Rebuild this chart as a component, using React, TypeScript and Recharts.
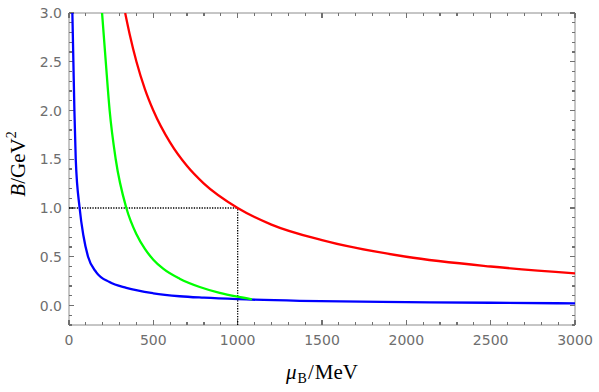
import React from 'react';
import { LineChart, Line, XAxis, YAxis, ReferenceLine, ReferenceArea } from 'recharts';

// ---- data ----
const blueMu = [20, 26, 32, 40, 63, 85, 113, 162, 240, 340, 500, 656, 800, 1000, 1370, 2000, 2500, 3000];
const blueB = [3.0, 2.5, 2.0, 1.5, 1.0, 0.72, 0.5, 0.34, 0.24, 0.18, 0.125, 0.095, 0.08, 0.065, 0.048, 0.035, 0.028, 0.022];

const greenMu = [196, 218, 241, 277, 340, 400, 450, 500, 560, 656, 775, 893, 1000, 1085];
const greenB = [3.0, 2.5, 2.0, 1.5, 1.0, 0.73, 0.58, 0.47, 0.375, 0.275, 0.19, 0.13, 0.09, 0.063];

const redMu = [333, 360, 400, 450, 500, 600, 700, 800, 1000, 1200, 1500, 2000, 2500, 3000];
const redB = [3.0, 2.78, 2.5, 2.22, 2.0, 1.67, 1.43, 1.25, 1.0, 0.83, 0.67, 0.5, 0.4, 0.33];

const hSegment = [{ x: 0, y: 1.0 }, { x: 1000, y: 1.0 }];
const vSegment = [{ x: 1000, y: -0.2 }, { x: 1000, y: 1.0 }];

const xDomain = [0, 3000];
const yDomain = [-0.2, 3.0];
const xMajorTicks = [0, 500, 1000, 1500, 2000, 2500, 3000];
const yMajorTicks = [0.0, 0.5, 1.0, 1.5, 2.0, 2.5, 3.0];
const xAllTicks = Array.from({ length: 31 }, (_, i) => i * 100);
const yAllTicks = Array.from({ length: 33 }, (_, i) => Math.round((-0.2 + i * 0.1) * 10) / 10);

const toRows = (mu: number[], b: number[]) => mu.map((m, i) => ({ mu: m, B: b[i] }));
const blueData = toRows(blueMu, blueB);
const greenData = toRows(greenMu, greenB);
const redData = toRows(redMu, redB);

// ---- layout / style ----
const CHART_W = 599;
const CHART_H = 392;
const MARGIN = { top: 13, right: 24, bottom: 0, left: 0 };
const Y_AXIS_W = 69;
const X_AXIS_H = 67;
const PLOT_W = CHART_W - MARGIN.right - Y_AXIS_W;
const PLOT_H = CHART_H - MARGIN.top - X_AXIS_H;
const muPerPx = (xDomain[1] - xDomain[0]) / PLOT_W;
const bPerPx = (yDomain[1] - yDomain[0]) / PLOT_H;

const AXIS = '#8c8c8c';
const TICKC = '#707070';
const TXT = '#6e6e6e';
const TICK_FONT = 'DejaVu Sans';
const TICK_SIZE = 14;
const MY = 7;
const MX = 10;
const MAJ = 5;
const MIN = 3;

const isMajorX = (v: number) => xMajorTicks.includes(v);
const isMajorY = (v: number) => yMajorTicks.some((t) => Math.abs(t - v) < 1e-6);

// inward tick marks on all four sides, positioned through the chart scales
const xTickSegs = xAllTicks.flatMap((v) => {
  const len = (isMajorX(v) ? MAJ : MIN) * bPerPx;
  return [
    [{ x: v, y: yDomain[0] }, { x: v, y: yDomain[0] + len }],
    [{ x: v, y: yDomain[1] }, { x: v, y: yDomain[1] - len }],
  ];
});
const yTickSegs = yAllTicks.flatMap((v) => {
  const len = (isMajorY(v) ? MAJ : MIN) * muPerPx;
  return [
    [{ x: xDomain[0], y: v }, { x: xDomain[0] + len, y: v }],
    [{ x: xDomain[1], y: v }, { x: xDomain[1] - len, y: v }],
  ];
});

function LeftTick(props: any) {
  const x = Number(props.x);
  const y = Number(props.y);
  const v = Number(props.payload.value);
  if (!isMajorY(v)) return <g />;
  return (
    <text x={x} y={y} dy="0.36em" textAnchor="end" fill={TXT} fontSize={TICK_SIZE} fontFamily={TICK_FONT}>
      {v.toFixed(1)}
    </text>
  );
}

function BottomTick(props: any) {
  const x = Number(props.x);
  const y = Number(props.y);
  const v = Number(props.payload.value);
  if (!isMajorX(v)) return <g />;
  return (
    <text x={x} y={y} dy="0.72em" textAnchor="middle" fill={TXT} fontSize={TICK_SIZE} fontFamily={TICK_FONT}>
      {String(v)}
    </text>
  );
}

function XTitle(props: any) {
  const vb = props.viewBox || { x: Y_AXIS_W, width: PLOT_W, y: MARGIN.top + PLOT_H };
  const cx = vb.x + vb.width / 2;
  return (
    <text x={cx} y={vb.y + 54} textAnchor="middle" fontFamily="Liberation Serif" fontSize={21} fill="#000">
      <tspan fontStyle="italic">μ</tspan>
      <tspan fontSize={14} dy={4} dx={1}>B</tspan>
      <tspan dy={-4} dx={1}>/</tspan>
      <tspan dx={1}>MeV</tspan>
    </text>
  );
}

function YTitle() {
  const x = 25;
  const y = 164;
  return (
    <text x={x} y={y} transform={`rotate(-90 ${x} ${y})`} textAnchor="middle" fontFamily="Liberation Serif" fontSize={21} fill="#000">
      <tspan fontStyle="italic">B</tspan>
      <tspan>/GeV</tspan>
      <tspan fontSize={14} dy={-9}>2</tspan>
    </text>
  );
}

export default function App() {
  return (
    <div style={{ position: 'absolute', left: 0, top: 0, width: CHART_W, height: CHART_H, background: '#fff' }}>
      <LineChart width={CHART_W} height={CHART_H} margin={MARGIN}>
        <XAxis
          type="number"
          dataKey="mu"
          domain={xDomain}
          allowDataOverflow
          ticks={xAllTicks}
          interval={0}
          tickSize={0}
          tickMargin={MX}
          tickLine={false}
          axisLine={false}
          tick={(p: any) => <BottomTick {...p} />}
          height={X_AXIS_H}
          label={{ content: (p: any) => <XTitle {...p} /> }}
        />
        <YAxis
          type="number"
          domain={yDomain}
          allowDataOverflow
          ticks={yAllTicks}
          interval={0}
          tickSize={0}
          tickMargin={MY}
          tickLine={false}
          axisLine={false}
          tick={(p: any) => <LeftTick {...p} />}
          width={Y_AXIS_W}
          label={{ content: () => <YTitle /> }}
        />
        <ReferenceArea
          x1={xDomain[0]}
          x2={xDomain[1]}
          y1={yDomain[0]}
          y2={yDomain[1]}
          fill="none"
          fillOpacity={0}
          stroke={AXIS}
          strokeWidth={1}
          ifOverflow="visible"
        />
        {xTickSegs.map((s, i) => (
          <ReferenceLine key={`xt${i}`} segment={s} stroke={TICKC} strokeWidth={1.2} shapeRendering="crispEdges" ifOverflow="extendDomain" />
        ))}
        {yTickSegs.map((s, i) => (
          <ReferenceLine key={`yt${i}`} segment={s} stroke={TICKC} strokeWidth={1.2} shapeRendering="crispEdges" ifOverflow="extendDomain" />
        ))}
        <ReferenceLine segment={hSegment} stroke="#000" strokeWidth={1.3} strokeDasharray="1.3 1.3" />
        <ReferenceLine segment={vSegment} stroke="#000" strokeWidth={1.3} strokeDasharray="1.3 1.3" />
        <Line data={blueData} dataKey="B" type="monotone" dot={false} activeDot={false} stroke="#0000ff" strokeWidth={2.3} isAnimationActive={false} />
        <Line data={greenData} dataKey="B" type="monotone" dot={false} activeDot={false} stroke="#00ff00" strokeWidth={2.3} isAnimationActive={false} />
        <Line data={redData} dataKey="B" type="monotone" dot={false} activeDot={false} stroke="#ff0000" strokeWidth={2.3} isAnimationActive={false} />
      </LineChart>
    </div>
  );
}
